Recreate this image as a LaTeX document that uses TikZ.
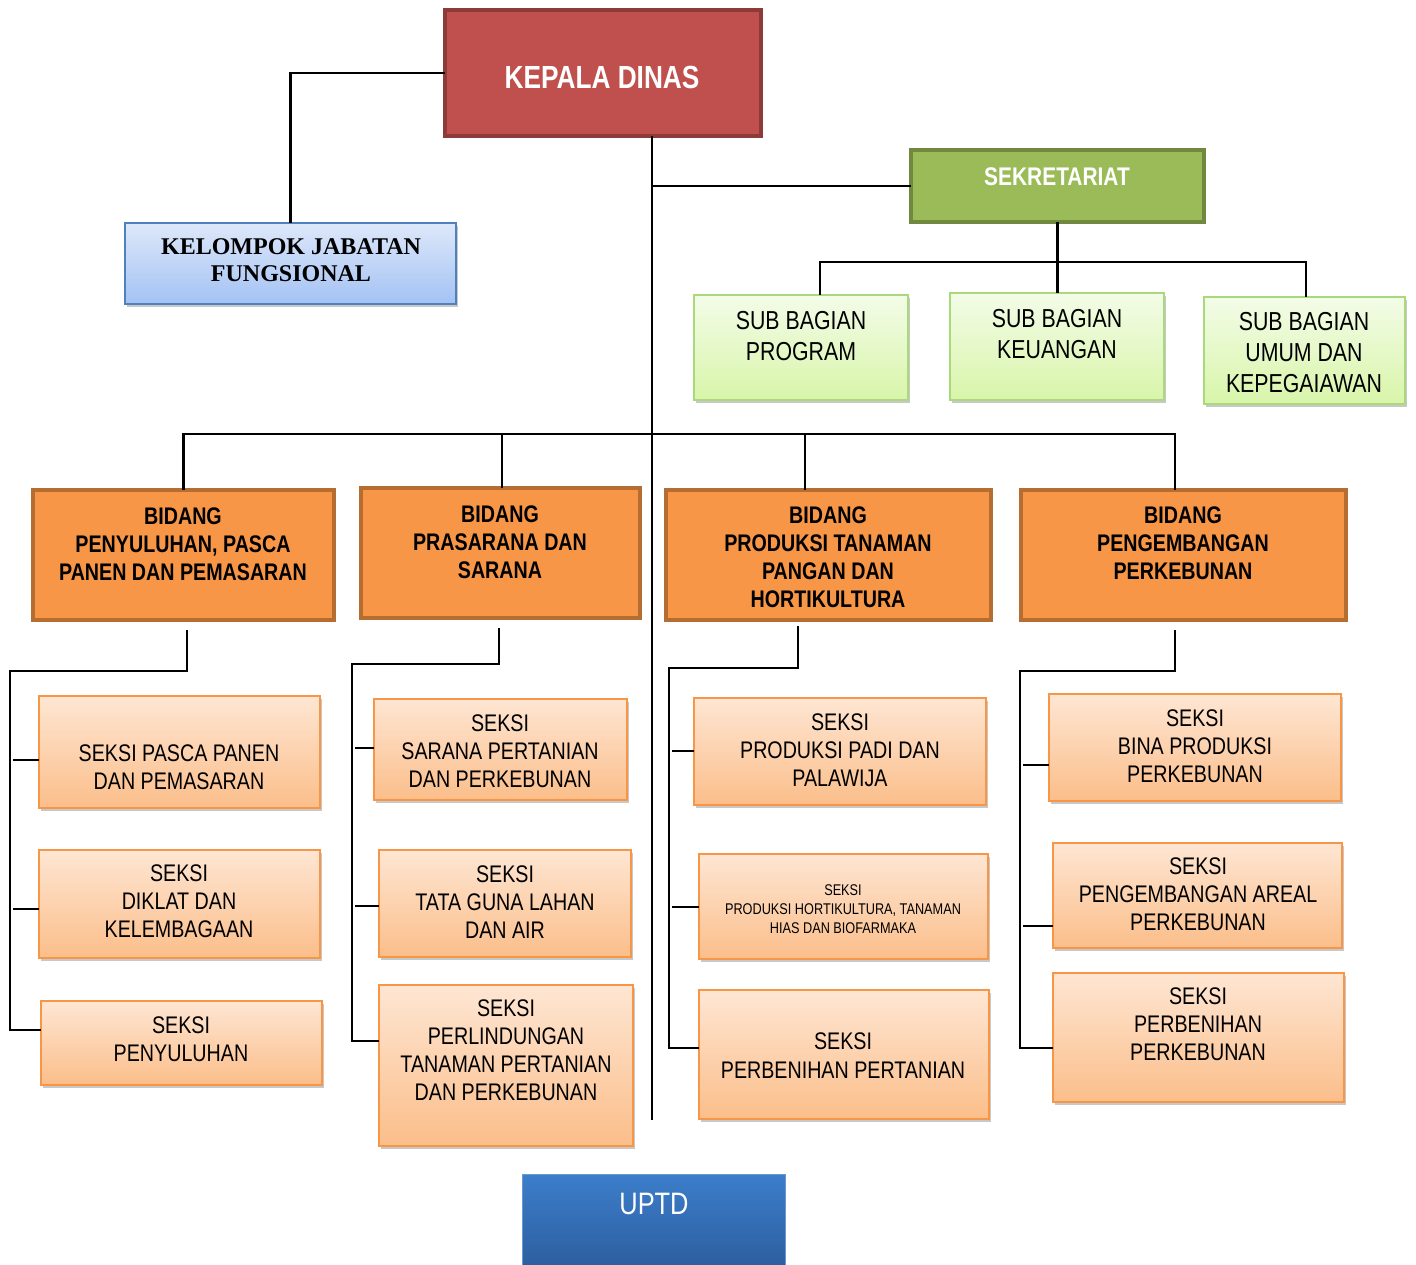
\documentclass[tikz,border=0pt]{standalone}
\usepackage{fontspec}
\setmainfont{Liberation Sans}[FakeStretch=0.82]
\newfontfamily\tnrfont{Liberation Serif}
\usetikzlibrary{shadows,calc}
\definecolor{kdfill}{HTML}{C0504D}
\definecolor{kddraw}{HTML}{8E3A38}
\definecolor{sekfill}{HTML}{9BBB59}
\definecolor{sekdraw}{HTML}{71893F}
\definecolor{bidfill}{HTML}{F79646}
\definecolor{biddraw}{HTML}{B66D31}
\definecolor{sktop}{HTML}{FEE6D3}
\definecolor{skbot}{HTML}{FBBE8A}
\definecolor{skdraw}{HTML}{F79646}
\definecolor{sbtop}{HTML}{F3FCE8}
\definecolor{sbbot}{HTML}{D8F5A9}
\definecolor{sbdraw}{HTML}{A9D97A}
\definecolor{kjtop}{HTML}{DDE8FA}
\definecolor{kjbot}{HTML}{A4C2F4}
\definecolor{kjdraw}{HTML}{4F81BD}
\definecolor{uptop}{HTML}{3C7ECB}
\definecolor{upbot}{HTML}{2C5C9C}
\definecolor{updraw}{HTML}{6A98D0}
\tikzset{
  box/.style={rectangle, inner sep=0pt, outer sep=0pt, anchor=north west},
  shadowed/.style={drop shadow={shadow xshift=1.5pt, shadow yshift=-3pt, opacity=0.3, fill=black!70}},
  kdbox/.style={box, fill=kdfill, draw=kddraw, line width=4pt},
  sekbox/.style={box, fill=sekfill, draw=sekdraw, line width=4pt},
  bidbox/.style={box, fill=bidfill, draw=biddraw, line width=4pt},
  seksibox/.style={box, draw=skdraw, line width=2pt, top color=sktop, bottom color=skbot, shadowed},
  subbox/.style={box, draw=sbdraw, line width=2pt, top color=sbtop, bottom color=sbbot, shadowed},
  kjbox/.style={box, draw=kjdraw, line width=2pt, top color=kjtop, bottom color=kjbot, shadowed},
  upbox/.style={box, draw=updraw, line width=1pt, top color=uptop, bottom color=upbot},
  txt/.style={align=center, inner sep=0pt, text=black},
  kdtxt/.style={txt, text=white, font=\bfseries\fontsize{32}{38}\selectfont},
  sektxt/.style={txt, text=white, font=\bfseries\fontsize{25.5}{30}\selectfont},
  kjtxt/.style={txt, font=\tnrfont\bfseries\fontsize{24}{27}\selectfont},
  subtxt/.style={txt, font=\fontsize{26}{31}\selectfont},
  bidtxt/.style={txt, font=\bfseries\fontsize{24}{28}\selectfont},
  sktxt/.style={txt, font=\fontsize{24}{28}\selectfont},
  smalltxt/.style={txt, font=\fontsize{15.5}{19}\selectfont},
  uptxt/.style={txt, text=white, font=\fontsize{31}{36}\selectfont},
  conn/.style={draw=black, line width=2.2pt}
}
\begin{document}
\begin{tikzpicture}[x=1pt,y=-1pt]
\clip (0,0) rectangle (1416,1265);
\fill[white] (0,0) rectangle (1416,1265);

% boxes
\node[kdbox, minimum width=316pt, minimum height=126pt] (kd) at (445,10) {};
\node[sekbox, minimum width=293pt, minimum height=72pt] (sek) at (911,150) {};
\node[kjbox, minimum width=331pt, minimum height=81pt] (kjf) at (125,223) {};
\node[subbox, minimum width=214pt, minimum height=105pt] (prog) at (694,295) {};
\node[subbox, minimum width=214pt, minimum height=107pt] (keu) at (950,293) {};
\node[subbox, minimum width=201pt, minimum height=107pt] (umum) at (1204,297) {};
\node[bidbox, minimum width=301pt, minimum height=130pt] (b1) at (33,490) {};
\node[bidbox, minimum width=279pt, minimum height=130pt] (b2) at (361,488) {};
\node[bidbox, minimum width=325pt, minimum height=130pt] (b3) at (666,490) {};
\node[bidbox, minimum width=325pt, minimum height=130pt] (b4) at (1021,490) {};
\node[seksibox, minimum width=281pt, minimum height=112pt] (s1a) at (39,696) {};
\node[seksibox, minimum width=281pt, minimum height=108pt] (s1b) at (39,850) {};
\node[seksibox, minimum width=281pt, minimum height=84pt] (s1c) at (41,1001) {};
\node[seksibox, minimum width=253pt, minimum height=101pt] (s2a) at (374,699) {};
\node[seksibox, minimum width=252pt, minimum height=107pt] (s2b) at (379,850) {};
\node[seksibox, minimum width=254pt, minimum height=161pt] (s2c) at (379,985) {};
\node[seksibox, minimum width=292pt, minimum height=107pt] (s3a) at (694,698) {};
\node[seksibox, minimum width=289pt, minimum height=105pt] (s3b) at (699,854) {};
\node[seksibox, minimum width=290pt, minimum height=129pt] (s3c) at (699,990) {};
\node[seksibox, minimum width=292pt, minimum height=107pt] (s4a) at (1049,694) {};
\node[seksibox, minimum width=289pt, minimum height=105pt] (s4b) at (1053,843) {};
\node[seksibox, minimum width=291pt, minimum height=129pt] (s4c) at (1053,973) {};
\node[upbox, minimum width=263pt, minimum height=100pt] (uptd) at (522,1174) {};

% texts
\node[kdtxt] (kd-t) at (602,77) {KEPALA DINAS};
\node[sektxt] (sek-t) at (1057,177) {SEKRETARIAT};
\node[kjtxt] (kjf-t) at (291,260.5) {KELOMPOK JABATAN\\FUNGSIONAL};
\node[subtxt] (prog-t) at (801,336) {SUB BAGIAN\\PROGRAM};
\node[subtxt] (keu-t) at (1057,334) {SUB BAGIAN\\KEUANGAN};
\node[subtxt] (umum-t) at (1304,353) {SUB BAGIAN\\UMUM DAN\\KEPEGAIAWAN};
\node[bidtxt] (b1-t) at (183,544) {BIDANG\\PENYULUHAN, PASCA\\PANEN DAN PEMASARAN};
\node[bidtxt] (b2-t) at (500,542.5) {BIDANG\\PRASARANA DAN\\SARANA};
\node[bidtxt] (b3-t) at (828,557.5) {BIDANG\\PRODUKSI TANAMAN\\PANGAN DAN\\HORTIKULTURA};
\node[bidtxt] (b4-t) at (1183,543.5) {BIDANG\\PENGEMBANGAN\\PERKEBUNAN};
\node[sktxt] (s1a-t) at (179,767) {SEKSI PASCA PANEN\\DAN PEMASARAN};
\node[sktxt] (s1b-t) at (179,901) {SEKSI\\DIKLAT DAN\\KELEMBAGAAN};
\node[sktxt] (s1c-t) at (181,1039) {SEKSI\\PENYULUHAN};
\node[sktxt] (s2a-t) at (500,751) {SEKSI\\SARANA PERTANIAN\\DAN PERKEBUNAN};
\node[sktxt] (s2b-t) at (505,902) {SEKSI\\TATA GUNA LAHAN\\DAN AIR};
\node[sktxt] (s2c-t) at (506,1050.5) {SEKSI\\PERLINDUNGAN\\TANAMAN PERTANIAN\\DAN PERKEBUNAN};
\node[sktxt] (s3a-t) at (840,750.5) {SEKSI\\PRODUKSI PADI DAN\\PALAWIJA};
\node[smalltxt] (s3b-t) at (843,909.5) {SEKSI\\PRODUKSI HORTIKULTURA, TANAMAN\\HIAS DAN BIOFARMAKA};
\node[txt, font=\fontsize{24}{29}\selectfont] (s3c-t) at (843,1055.5) {SEKSI\\PERBENIHAN PERTANIAN};
\node[sktxt] (s4a-t) at (1195,746) {SEKSI\\BINA PRODUKSI\\PERKEBUNAN};
\node[sktxt] (s4b-t) at (1198,894.5) {SEKSI\\PENGEMBANGAN AREAL\\PERKEBUNAN};
\node[sktxt] (s4c-t) at (1198,1024.5) {SEKSI\\PERBENIHAN\\PERKEBUNAN};
\node[uptxt] (uptd-t) at (654,1204) {UPTD};

% connectors
\coordinate (trunk) at (652,1120);
\coordinate (sbar) at (0,262);
\coordinate (bbar) at (0,434);
\draw[conn] (kd.south -| trunk) -- (trunk);
\draw[conn] (kd.west) -- (kjf.north |- kd.west) -- (kjf.north);
\draw[conn] (sek.west) -- (sek.west -| trunk);
\draw[conn] (sek.south) -- (sek.south |- keu.north);
\draw[conn] ($(prog.north)+(19,0)$) -- ($(prog.north |- sbar)+(19,0)$) -- ($(umum.north |- sbar)+(1.5,0)$) -- ($(umum.north)+(1.5,0)$);
\draw[conn] (b1.north) -- (b1.north |- bbar) -- ($(b4.north |- bbar)+(-8.5,0)$) -- ($(b4.north)+(-8.5,0)$);
\draw[conn] ($(b2.north)+(1.5,0)$) -- ($(b2.north |- bbar)+(1.5,0)$);
\draw[conn] ($(b3.north)+(-23.5,0)$) -- ($(b3.north |- bbar)+(-23.5,0)$);

% group 1
\coordinate (g1) at (10,671);
\draw[conn] ($(b1.south)+(3.5,10)$) |- (g1) |- (s1c.west |- 0,1030);
\draw[conn] (13,760) -- (s1a.west |- 0,760);
\draw[conn] (13,909) -- (s1b.west |- 0,909);
% group 2
\coordinate (g2) at (352,664);
\draw[conn] ($(b2.south)+(-1.5,10)$) |- (g2) |- (s2c.west |- 0,1041);
\draw[conn] (355,748) -- (s2a.west |- 0,748);
\draw[conn] (355,906) -- (s2b.west |- 0,906);
% group 3
\coordinate (g3) at (669,668);
\draw[conn] ($(b3.south)+(-30.5,6)$) |- (g3) |- (s3c.west |- 0,1048);
\draw[conn] (672,751) -- (s3a.west |- 0,751);
\draw[conn] (672,907) -- (s3b.west |- 0,907);
% group 4
\coordinate (g4) at (1020,671);
\draw[conn] ($(b4.south)+(-8.5,10)$) |- (g4) |- (s4c.west |- 0,1048);
\draw[conn] (1023,765) -- (s4a.west |- 0,765);
\draw[conn] (1023,926) -- (s4b.west |- 0,926);
\end{tikzpicture}
\end{document}
